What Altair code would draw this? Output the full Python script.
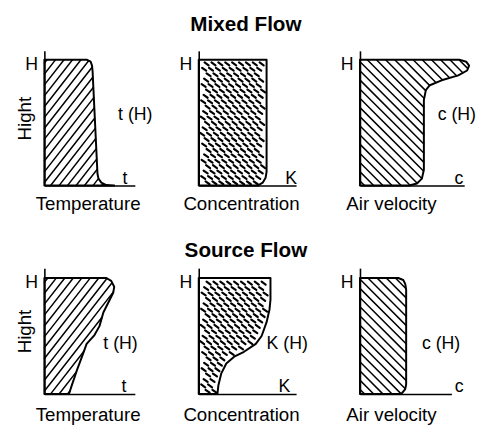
import altair as alt
import numpy as np
import pandas as pd

# ---------------- data ----------------
row_titles = ["Mixed Flow", "Source Flow"]
quantity_titles = ["Temperature", "Concentration", "Air velocity"]
axis_symbols = ["t", "K", "c"]
mixed_profile_labels = ["t (H)", "", "c (H)"]
source_profile_labels = ["t (H)", "K (H)", "c (H)"]
height_label = "Hight"

# profiles: height as fraction of H, value as fraction of the axis length
mixed_temp_h = [0, 0.004, 0.023, 0.055, 0.094, 0.906, 0.953, 0.984, 1.0]
mixed_temp_v = [0.772, 0.685, 0.630, 0.598, 0.587, 0.533, 0.527, 0.511, 0.467]
mixed_conc_h = [0, 0.023, 0.0625, 0.109, 1.0]
mixed_conc_v = [0.606, 0.657, 0.687, 0.697, 0.697]
mixed_vel_h = [0, 0.016, 0.055, 0.125, 0.680, 0.758, 0.797, 0.836, 0.875, 0.914, 0.953, 0.984, 1.0]
mixed_vel_v = [0.472, 0.547, 0.594, 0.613, 0.613, 0.632, 0.670, 0.783, 0.943, 1.028, 1.047, 1.019, 0.953]
source_temp_h = [0, 0.076, 0.203, 0.339, 0.432, 0.508, 0.585, 0.703, 0.873, 0.924, 0.975, 1.0]
source_temp_v = [0.272, 0.304, 0.359, 0.424, 0.467, 0.554, 0.609, 0.652, 0.761, 0.772, 0.739, 0.685]
source_conc_h = [0, 0.076, 0.178, 0.263, 0.322, 0.364, 0.432, 0.500, 0.619, 0.729, 0.814, 1.0]
source_conc_v = [0.192, 0.202, 0.232, 0.283, 0.364, 0.465, 0.586, 0.646, 0.697, 0.727, 0.737, 0.737]
source_vel_h = [0, 0.042, 0.085, 0.898, 0.949, 0.983, 1.0]
source_vel_v = [0.452, 0.495, 0.505, 0.505, 0.495, 0.473, 0.419]

# label positions (value fraction, height fraction)
mixed_symbol_v = [0.89, 0.95, 0.95]
source_symbol_v = [0.88, 0.88, 1.086]
mixed_label_v = [0.815, 0.0, 0.745]
mixed_label_h = [0.56, 0.56, 0.56]
source_label_v = [0.652, 0.697, 0.677]
source_label_h = [0.432, 0.432, 0.432]

# ---------------- layout / style ----------------
FONT = "Liberation Sans"
row_widths = [[92, 99, 106], [92, 99, 93]]
row_heights = [137, 128]
row_ymax = [1.07, 1.085]
title_x = [44, 43, 31.5]
xtitle_y = [24, 27]
row_title_offset = [-1, -10]
patterns = ["slash", "dash", "back"]


def hatch_segments(hs, vs, W, Hpx, angle, spacing):
    a = np.radians(angle)
    d = np.array([np.cos(a), np.sin(a)])
    n = np.array([-np.sin(a), np.cos(a)])
    xmax = W * max(vs)
    corners = np.array([[0, 0], [xmax, 0], [0, Hpx], [xmax, Hpx]])
    cs = corners @ n
    L = xmax + Hpx
    ts = np.arange(-L, L, 0.25)
    rows = []
    for c in np.arange(cs.min() + spacing / 2, cs.max(), spacing):
        px = c * n[0] + ts * d[0]
        py = c * n[1] + ts * d[1]
        bound = W * np.interp(np.clip(py / Hpx, 0, 1), hs, vs)
        inside = (py >= 0) & (py <= Hpx) & (px >= 0) & (px <= bound)
        idx = np.flatnonzero(inside)
        if idx.size == 0:
            continue
        br = np.flatnonzero(np.diff(idx) > 1)
        starts = np.r_[idx[0], idx[br + 1]]
        ends = np.r_[idx[br], idx[-1]]
        for s, e in zip(starts, ends):
            if e - s < 3:
                continue
            rows.append({"v": px[s] / W, "h": py[s] / Hpx,
                         "v2": px[e] / W, "h2": py[e] / Hpx})
    return pd.DataFrame(rows)


def dash_segments(hs, vs, W, Hpx, dx=7.0, dy=5.5, shift=2.5, length=5.0, slope=-0.7):
    ux = length / 2 / np.sqrt(1 + slope ** 2)
    uy = slope * ux

    def inside(x, y, m=1.0):
        if y < m or y > Hpx - m or x < m:
            return False
        return x <= W * np.interp(y / Hpx, hs, vs) - m

    rows = []
    j = 0
    y = dy / 2
    while y < Hpx:
        x = (j * shift) % dx + 2
        while x < W * max(vs):
            p1 = (x - ux, y - uy)
            p2 = (x + ux, y + uy)
            if inside(*p1) and inside(*p2) and inside(x, y):
                rows.append({"v": p1[0] / W, "h": p1[1] / Hpx,
                             "v2": p2[0] / W, "h2": p2[1] / Hpx})
            x += dx
        y += dy
        j += 1
    return pd.DataFrame(rows)


def make_panel(r, c, hs, vs, label, label_v, label_h, symbol_v):
    W = row_widths[r][c]
    Hplot = row_heights[r]
    ymax = row_ymax[r]
    Hpx = Hplot / ymax
    xscale = alt.Scale(domain=[0, 1], nice=False, zero=True)
    yscale = alt.Scale(domain=[0, ymax], nice=False, zero=True)
    xaxis = alt.Axis(title=quantity_titles[c], labels=False, ticks=False, grid=False,
                     domainColor="black", domainWidth=1.6,
                     titleFont=FONT, titleFontSize=19, titleFontWeight="normal",
                     titleColor="black", titleX=title_x[c], titleY=xtitle_y[r],
                     titleAlign="center", titleBaseline="alphabetic")
    ykw = dict(values=[1], labelExpr="'H'", ticks=False, grid=False,
               domainColor="black", domainWidth=1.6, labelFont=FONT,
               labelFontSize=18, labelColor="black", labelPadding=7, labelOffset=5)
    if c == 0:
        ykw.update(title=height_label, titleFont=FONT, titleFontSize=19,
                   titleFontWeight="normal", titleColor="black", titleX=-14,
                   titleY=Hplot / 2, titleAlign="center", titleBaseline="alphabetic",
                   titleAngle=270)
    else:
        ykw.update(title=None)
    yaxis = alt.Axis(**ykw)

    X = lambda f: alt.X(f, type="quantitative", scale=xscale, axis=xaxis, stack=None)
    Y = lambda f: alt.Y(f, type="quantitative", scale=yscale, axis=yaxis)

    prof = pd.DataFrame({"h": hs, "v": vs})
    if patterns[c] == "slash":
        hdf = hatch_segments(hs, vs, W, Hpx, 52, 6.8)
        sw = 1.5
    elif patterns[c] == "back":
        hdf = hatch_segments(hs, vs, W, Hpx, -45, 6.6)
        sw = 1.5
    else:
        hdf = dash_segments(hs, vs, W, Hpx)
        sw = 2.2

    hatch = alt.Chart(hdf).mark_rule(color="black", strokeWidth=sw, strokeCap="round").encode(
        x=X("v"), y=Y("h"), x2="v2:Q", y2="h2:Q")
    area = alt.Chart(prof).mark_area(orient="horizontal", interpolate="linear",
                                     fill="transparent", stroke="black",
                                     strokeWidth=2, strokeJoin="round").encode(
        x=X("v"), y=Y("h"))
    sym = alt.Chart(pd.DataFrame({"v": [symbol_v], "h": [0.0], "s": [axis_symbols[c]]})).mark_text(
        font=FONT, fontSize=18, align="center", baseline="alphabetic", dy=-2, color="black").encode(
        x=X("v"), y=Y("h"), text="s:N")
    layers = [hatch, area, sym]
    if label:
        lab = alt.Chart(pd.DataFrame({"v": [label_v], "h": [label_h], "s": [label]})).mark_text(
            font=FONT, fontSize=18, align="left", baseline="middle", color="black").encode(
            x=X("v"), y=Y("h"), text="s:N")
        layers.append(lab)
    props = dict(width=W, height=Hplot)
    if c == 1:
        props["title"] = alt.TitleParams(text=row_titles[r], font=FONT, fontSize=21,
                                         fontWeight="bold", color="black",
                                         anchor="middle", frame="group",
                                         baseline="alphabetic",
                                         offset=row_title_offset[r], dx=-1.5)
    return alt.layer(*layers).properties(**props)


mixed = [(mixed_temp_h, mixed_temp_v), (mixed_conc_h, mixed_conc_v), (mixed_vel_h, mixed_vel_v)]
source = [(source_temp_h, source_temp_v), (source_conc_h, source_conc_v), (source_vel_h, source_vel_v)]

panels = []
for r, (profiles, labels, lv, lh, sv) in enumerate([
        (mixed, mixed_profile_labels, mixed_label_v, mixed_label_h, mixed_symbol_v),
        (source, source_profile_labels, source_label_v, source_label_h, source_symbol_v)]):
    for c in range(3):
        panels.append(make_panel(r, c, profiles[c][0], profiles[c][1], labels[c], lv[c], lh[c], sv[c]))

chart = alt.concat(*panels, columns=3, spacing={"row": 84, "column": 65},
                   bounds="flush").properties(
    padding={"left": 8, "top": 3, "right": 0, "bottom": 0},
    background="white",
).configure_view(stroke=None)

chart.save("out.html", embed_options={"renderer": "svg", "actions": False})
